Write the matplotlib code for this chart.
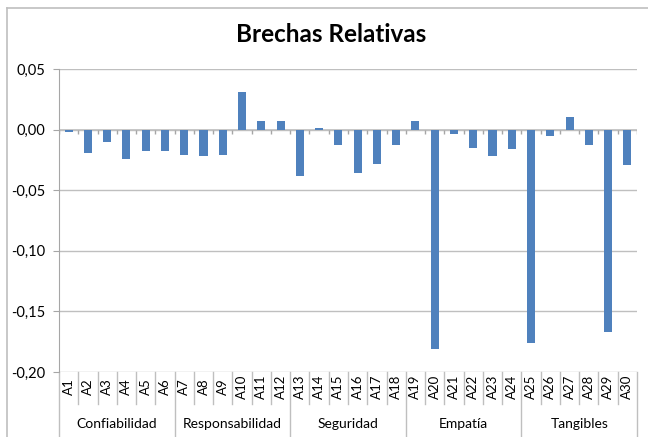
import matplotlib
matplotlib.use("Agg")
import matplotlib.pyplot as plt
import matplotlib.transforms as mtransforms
import numpy as np

plt.rcParams['font.family'] = ['Lato', 'DejaVu Sans']

# data
items = ['A%d' % i for i in range(1, 31)]
brechas = [-0.002, -0.019, -0.010, -0.024, -0.018, -0.018,
           -0.021, -0.022, -0.021, 0.031, 0.007, 0.007,
           -0.038, 0.001, -0.013, -0.036, -0.028, -0.013,
           0.007, -0.181, -0.004, -0.015, -0.022, -0.016,
           -0.176, -0.005, 0.010, -0.013, -0.167, -0.029]
grupos = ['Confiabilidad', 'Responsabilidad', 'Seguridad', 'Empatía', 'Tangibles']
grupo_tam = [6, 6, 6, 6, 6]
yticks = [0.05, 0.00, -0.05, -0.10, -0.15, -0.20]

W, H = 648, 437
fig = plt.figure(figsize=(W / 100, H / 100), dpi=100)

# plot area in pixels: x 59..637, y 69..372
px_l, px_r, px_t, px_b = 59, 637, 69, 372
ax = fig.add_axes([px_l / W, 1 - px_b / H, (px_r - px_l) / W, (px_b - px_t) / H])
ax_h = px_b - px_t

x = np.arange(len(items))
ax.bar(x, brechas, width=0.42, color='#4f81bd', zorder=3)

ax.set_xlim(-0.5, len(items) - 0.5)
ax.set_ylim(-0.20, 0.05)
ax.set_yticks(yticks)
ax.set_yticklabels([('%.2f' % v).replace('.', ',') for v in yticks], fontsize=10.5)
ax.tick_params(axis='y', length=4, color='#a6a6a6', pad=6)
ax.set_xticks([])
ax.grid(axis='y', color='#bfbfbf', linewidth=1, zorder=0)
for s in ['top', 'right', 'bottom']:
    ax.spines[s].set_visible(False)
ax.spines['left'].set_color('#a6a6a6')

# category axis at zero with small ticks at the boundaries
ax.axhline(0, color='#bfbfbf', linewidth=1.2, zorder=2)
bounds = np.arange(len(items) + 1) - 0.5
ax.vlines(bounds, -0.004, 0, color='#a6a6a6', linewidth=1, zorder=2)

# multi-level labels below the plot area
tr = mtransforms.blended_transform_factory(ax.transData, ax.transAxes)
y_item = -(404 - px_b) / ax_h
y_grp = -(437 - px_b) / ax_h
grp_edges = np.concatenate([[0], np.cumsum(grupo_tam)]) - 0.5
for b in bounds:
    bottom = y_grp if np.isclose(grp_edges, b).any() else y_item
    ax.plot([b, b], [0, bottom], transform=tr, color='#bfbfbf', linewidth=1, clip_on=False)
for xi, lab in zip(x, items):
    ax.text(xi, -(387 - px_b) / ax_h, lab, transform=tr, rotation=90,
            ha='center', va='center', fontsize=9.5)
for g, a, b in zip(grupos, grp_edges[:-1], grp_edges[1:]):
    ax.text((a + b) / 2, -(424 - px_b) / ax_h, g, transform=tr,
            ha='center', va='center', fontsize=10)

fig.text(331 / W, 1 - 35 / H, 'Brechas Relativas', ha='center', va='center',
         fontsize=17.5, fontweight='bold')

# chart border (cropped at right and bottom)
fig.add_artist(plt.Line2D([7 / W, 7 / W], [1 - 8 / H, 0], transform=fig.transFigure,
                          color='#bfbfbf', linewidth=1.2))
fig.add_artist(plt.Line2D([7 / W, 1], [1 - 8 / H, 1 - 8 / H], transform=fig.transFigure,
                          color='#bfbfbf', linewidth=1.2))

fig.savefig('out.png', dpi=100)
